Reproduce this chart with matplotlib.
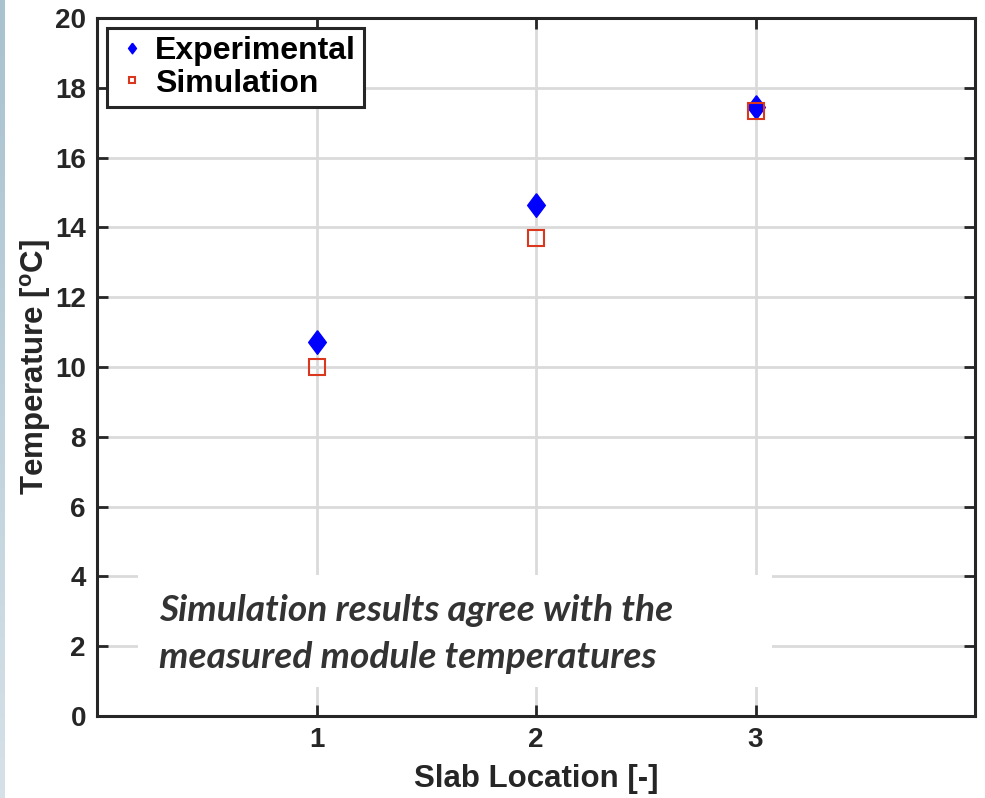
import numpy as np
import matplotlib.pyplot as plt
import matplotlib.patches as patches

# Datos
slab_location = [1, 2, 3]
temp_experimental = [10.71, 14.65, 17.45]
temp_simulation = [10.01, 13.69, 17.33]
x_ticks = [1, 2, 3]
y_ticks = [0, 2, 4, 6, 8, 10, 12, 14, 16, 18, 20]

plt.rcParams['font.family'] = ['Liberation Sans', 'DejaVu Sans']
plt.rcParams['font.weight'] = 'bold'
plt.rcParams['mathtext.fontset'] = 'custom'
plt.rcParams['mathtext.rm'] = 'Liberation Sans:bold'
plt.rcParams['mathtext.it'] = 'Liberation Sans:bold'
plt.rcParams['mathtext.bf'] = 'Liberation Sans:bold'

fig = plt.figure(figsize=(9.85, 7.98), dpi=100)

# franja azulada a la izquierda
strip = fig.add_axes([0, 0, 5 / 985, 1])
grad = np.linspace(0, 1, 100).reshape(-1, 1)
strip.imshow(grad, aspect='auto', cmap=plt.matplotlib.colors.LinearSegmentedColormap.from_list(
    's', ['#a8c2ce', '#d6e1e7']))
strip.axis('off')

ax = fig.add_axes([97 / 985, 82 / 798, 878 / 985, 698 / 798])

# marcador de diamante tipo MATLAB
diamond = [(0, 1), (0.75, 0), (0, -1), (-0.75, 0), (0, 1)]

ax.plot(slab_location, temp_experimental, linestyle='none', marker=diamond,
        markersize=17, color='#0000ff', markeredgecolor='#0000ff',
        label='Experimental', zorder=3)
ax.plot(slab_location, temp_simulation, linestyle='none', marker='s',
        markersize=11, markerfacecolor='none', markeredgecolor='#d9381e',
        markeredgewidth=1.5, label='Simulation', zorder=4)

ax.set_xlim(0, 4)
ax.set_ylim(0, 20)
ax.set_xticks(x_ticks)
ax.set_yticks(y_ticks)
ax.grid(True, color='#dadada', linewidth=2.0)
ax.set_axisbelow(True)

for s in ax.spines.values():
    s.set_linewidth(2.2)
    s.set_color('#262626')
ax.tick_params(direction='in', length=8, width=2, color='#262626',
               top=True, right=True, labelsize=20, labelcolor='#262626', pad=8)

ax.set_xlabel('Slab Location [-]', fontsize=22.5, fontweight='bold', color='#262626', labelpad=8)
ax.set_ylabel(r'Temperature [$^{\mathrm{o}}$C]', fontsize=22.5, fontweight='bold',
              color='#262626', labelpad=1)

leg = ax.legend(loc='upper left', bbox_to_anchor=(10 / 878, 1 - 10 / 698),
                fontsize=23, markerscale=0.45, handlelength=1.06, handletextpad=0.19,
                borderpad=0.25, labelspacing=0.08, fancybox=False, framealpha=1,
                edgecolor='#262626', borderaxespad=0)
leg.get_frame().set_linewidth(2.2)
for t in leg.get_texts():
    t.set_fontweight('bold')

# cuadro de texto
ax.add_patch(patches.Rectangle(((138 - 97) / 878, (798 - 687 - 82) / 698),
                               (772 - 138) / 878, (687 - 575) / 698,
                               transform=ax.transAxes, facecolor='white',
                               edgecolor='none', zorder=2))
ax.text((159 - 97) / 878, (798 - 82 - 634) / 698,
        'Simulation results agree with the\nmeasured module temperatures',
        transform=ax.transAxes, family=['Lato', 'DejaVu Sans'], style='italic',
        fontweight='bold', fontsize=26.7, color='#333333', va='center', ha='left',
        linespacing=1.5, zorder=5)

fig.savefig('out.png', dpi=100)
